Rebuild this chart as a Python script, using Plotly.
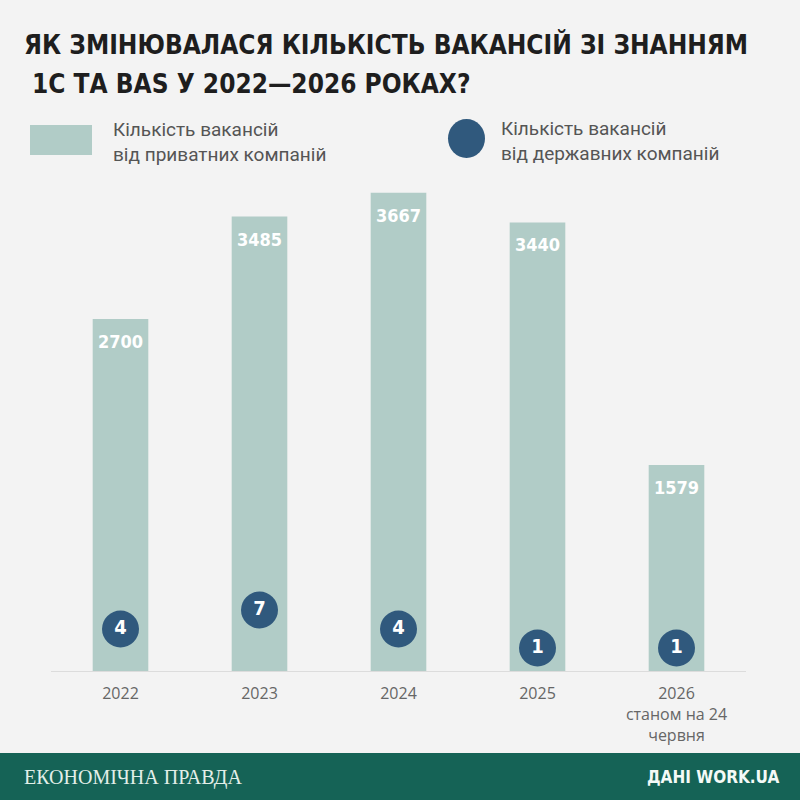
import plotly.graph_objects as go

years = ["2022", "2023", "2024", "2025", "2026<br>станом на 24<br>червня"]
private_jobs = [2700, 3485, 3667, 3440, 1579]
state_jobs = [4, 7, 4, 1, 1]

title_lines = ["ЯК ЗМІНЮВАЛАСЯ КІЛЬКІСТЬ ВАКАНСІЙ ЗІ ЗНАННЯМ", "1С ТА BAS У 2022—2026 РОКАХ?"]
legend_private = "Кількість вакансій<br>від приватних компаній"
legend_state = "Кількість вакансій<br>від державних компаній"

BG = "#f3f3f3"
BAR = "#b1ccc7"
DOT = "#30597d"
GREEN = "#156356"
NARROW = "DejaVu Sans Condensed, sans-serif"
LIGHT = "Roboto, sans-serif"

# plot area in pixels: x 51..746, y 170..671
L, R, T, B = 51, 746, 170, 671


def px(x):
    return (x - L) / (R - L)


def py(y):
    return (B - y) / (B - T)


def note(x, y, text, font, xanchor="left"):
    fig.add_annotation(xref="paper", yref="paper", x=px(x), y=py(y), xanchor=xanchor, yanchor="middle",
                       showarrow=False, align="left", text=text, font=font)


fig = go.Figure()

fig.add_trace(go.Bar(
    x=years, y=private_jobs,
    marker=dict(color=BAR, line=dict(width=0)),
    hoverinfo="skip", showlegend=False,
))

fig.add_trace(go.Scatter(
    x=years, y=state_jobs, yaxis="y2",
    mode="markers+text",
    marker=dict(size=37, color=DOT),
    text=[f"<b>{v}</b>" for v in state_jobs],
    textposition="middle center",
    textfont=dict(family=NARROW, size=20, color="white"),
    hoverinfo="skip", showlegend=False,
))

# value labels inside bar tops
for i, v in enumerate(private_jobs):
    fig.add_annotation(
        x=i, y=v, yanchor="top", yshift=-10, showarrow=False,
        text=f"<b>{v}</b>",
        font=dict(family=NARROW, size=18, color="white"),
    )

# title
title_font = dict(family=NARROW, size=26, color="#1e1e1e")
note(22, 44, f"<b>{title_lines[0]}</b>", title_font)
note(30, 84, f"<b>{title_lines[1]}</b>", title_font)

# legend
legend_font = dict(family=LIGHT, size=19, color="#555555")
fig.add_shape(type="rect", xref="paper", yref="paper", x0=px(30), x1=px(92), y0=py(155), y1=py(125),
              fillcolor=BAR, line=dict(width=0))
note(111, 142, legend_private, legend_font)
fig.add_shape(type="circle", xref="paper", yref="paper", x0=px(448), x1=px(485), y0=py(158), y1=py(119),
              fillcolor=DOT, line=dict(width=0))
note(499, 141, legend_state, legend_font)

# footer
fig.add_shape(type="rect", xref="paper", yref="paper", x0=px(-5), x1=px(805), y0=py(805), y1=py(753),
              fillcolor=GREEN, line=dict(width=0), layer="below")
note(22, 777, "ЕКОНОМІЧНА ПРАВДА", dict(family="Liberation Serif, serif", size=20, color="#e3efe9"))
note(781, 777, "<b>ДАНІ WORK.UA</b>", dict(family=NARROW, size=17, color="#f4faf7"), xanchor="right")

fig.update_layout(
    width=800, height=800,
    margin=dict(l=L, r=800 - R, t=T, b=800 - B, pad=0),
    paper_bgcolor=BG, plot_bgcolor=BG,
    bargap=0.6,
    xaxis=dict(
        type="category", range=[-0.5, 4.5], showgrid=False, zeroline=False,
        showline=True, linecolor="#dcdcdc", linewidth=1,
        ticks="", ticklabelstandoff=8,
        tickfont=dict(family="Open Sans, sans-serif", size=16, color="#666666"),
    ),
    yaxis=dict(range=[0, 3842], visible=False, showgrid=False, zeroline=False, fixedrange=True),
    yaxis2=dict(range=[-2.63, 76.5], overlaying="y", visible=False, showgrid=False, zeroline=False),
)

fig.write_html("out.html", config={"displayModeBar": False},
               post_script="document.body.style.margin='0';document.body.style.background='#f3f3f3';")
